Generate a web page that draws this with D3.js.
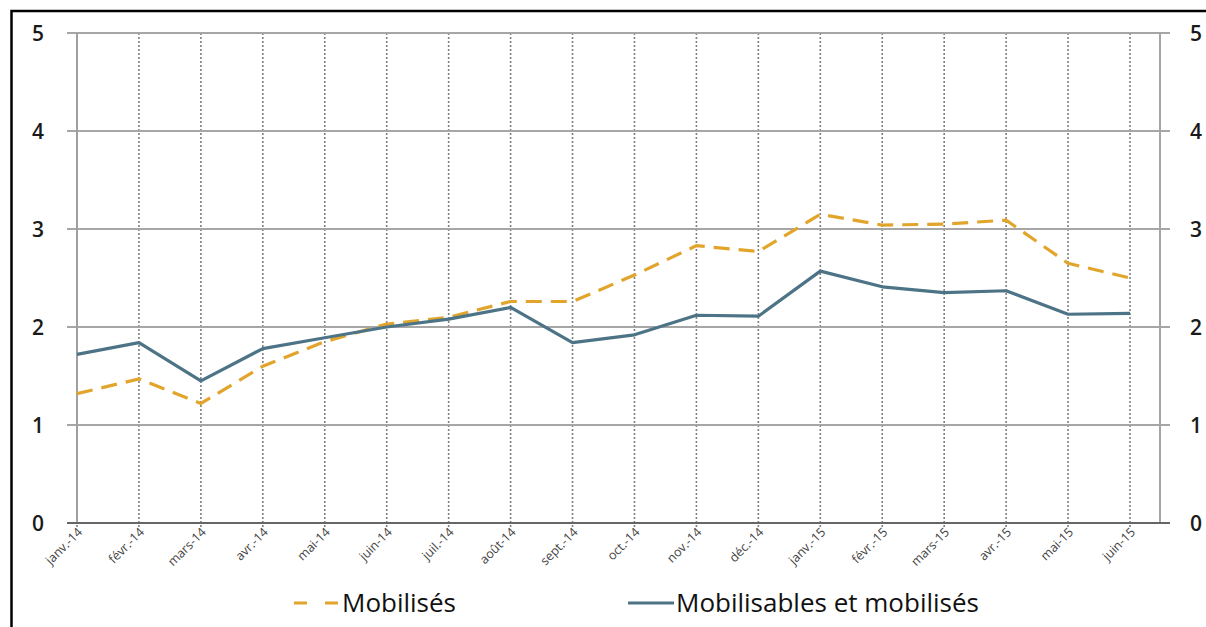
<!DOCTYPE html>
<html>
<head>
<meta charset="utf-8">
<script src="https://cdn.jsdelivr.net/npm/d3@7"></script>
<style>
  html, body { margin: 0; padding: 0; background: #fff; }
  svg { display: block; }
</style>
</head>
<body>
<svg id="chart" width="1206" height="627"></svg>
<script>
const categories = ["janv.-14","févr.-14","mars-14","avr.-14","mai-14","juin-14","juil.-14","août-14","sept.-14","oct.-14","nov.-14","déc.-14","janv.-15","févr.-15","mars-15","avr.-15","mai-15","juin-15"];
const mobilises = [1.32,1.47,1.22,1.60,1.85,2.03,2.10,2.26,2.26,2.53,2.83,2.77,3.15,3.04,3.05,3.09,2.65,2.50];
const mobilisables = [1.72,1.84,1.45,1.78,1.89,2.00,2.08,2.20,1.84,1.92,2.12,2.11,2.57,2.41,2.35,2.37,2.13,2.14];
const yTicks = [0,1,2,3,4,5];
const seriesNames = ["Mobilisés","Mobilisables et mobilisés"];

(function () {
const svg = d3.select("#chart");
const pLeft = 77, pRight = 1160, pTop = 33, pBottom = 523;
const x = d3.scalePoint().domain(categories).range([pLeft, 1130]);
const y = d3.scaleLinear().domain([0,5]).range([pBottom, pTop]);

// frame
svg.append("rect").attr("x", 11.5).attr("y", 11).attr("width", 1220).attr("height", 640)
  .attr("fill", "none").attr("stroke", "#000").attr("stroke-width", 2.5);

// vertical dotted gridlines
svg.append("g").selectAll("line").data(categories).join("line")
  .attr("x1", d => x(d)).attr("x2", d => x(d))
  .attr("y1", pTop).attr("y2", pBottom + 4)
  .attr("stroke", "#7f7f7f").attr("stroke-width", 1.6).attr("stroke-dasharray", "2,2");

// horizontal gridlines
svg.append("g").selectAll("line").data(yTicks.filter(d => d > 0)).join("line")
  .attr("x1", 67).attr("x2", 1170)
  .attr("y1", d => y(d)).attr("y2", d => y(d))
  .attr("stroke", "#a6a6a6").attr("stroke-width", 1.8);

// left & right axis lines
svg.append("line").attr("x1", pLeft).attr("x2", pLeft).attr("y1", pTop).attr("y2", pBottom)
  .attr("stroke", "#a0a0a0").attr("stroke-width", 2);
svg.append("line").attr("x1", pRight).attr("x2", pRight).attr("y1", pTop).attr("y2", pBottom)
  .attr("stroke", "#a6a6a6").attr("stroke-width", 2);
// bottom axis
svg.append("line").attr("x1", 67).attr("x2", 1170).attr("y1", pBottom).attr("y2", pBottom)
  .attr("stroke", "#666").attr("stroke-width", 2);

// y labels
const yFont = "'Open Sans', sans-serif";
svg.append("g").selectAll("text").data(yTicks).join("text")
  .attr("x", 38).attr("y", d => y(d)).attr("dy", "0.36em")
  .attr("text-anchor", "middle")
  .attr("font-family", yFont).attr("font-size", 21).attr("font-weight", 600)
  .attr("fill", "#1a1a1a").text(d => d);
svg.append("g").selectAll("text").data(yTicks).join("text")
  .attr("x", 1196).attr("y", d => y(d)).attr("dy", "0.36em")
  .attr("text-anchor", "middle")
  .attr("font-family", yFont).attr("font-size", 21).attr("font-weight", 600)
  .attr("fill", "#1a1a1a").text(d => d);

// x labels (rotated -45)
svg.append("g").selectAll("text").data(categories).join("text")
  .attr("x", 0).attr("y", 0)
  .attr("transform", d => "translate(" + (x(d) + 6) + "," + (pBottom + 10) + ") rotate(-45)")
  .attr("text-anchor", "end")
  .attr("font-family", "'Open Sans', sans-serif").attr("font-size", 12.5)
  .attr("fill", "#444").text(d => d);

// lines
const lineGen = d3.line().x((d, i) => x(categories[i])).y(d => y(d));
svg.append("path").datum(mobilises).attr("d", lineGen)
  .attr("fill", "none").attr("stroke", "#e2a52b").attr("stroke-width", 3.2)
  .attr("stroke-dasharray", "16,9");
svg.append("path").datum(mobilisables).attr("d", lineGen)
  .attr("fill", "none").attr("stroke", "#4d7486").attr("stroke-width", 3.2)
  .attr("stroke-linejoin", "round");

// legend
const lg = svg.append("g");
lg.append("line").attr("x1", 294).attr("x2", 338).attr("y1", 603).attr("y2", 603)
  .attr("stroke", "#e2a52b").attr("stroke-width", 3).attr("stroke-dasharray", "13,18");
lg.append("text").attr("x", 342).attr("y", 603).attr("dy", "0.35em")
  .attr("font-family", "'Open Sans', sans-serif").attr("font-size", 26)
  .attr("fill", "#111").text(seriesNames[0]);
lg.append("line").attr("x1", 628).attr("x2", 674).attr("y1", 603).attr("y2", 603)
  .attr("stroke", "#4d7486").attr("stroke-width", 3);
lg.append("text").attr("x", 676).attr("y", 603).attr("dy", "0.35em")
  .attr("font-family", "'Open Sans', sans-serif").attr("font-size", 26)
  .attr("fill", "#111").text(seriesNames[1]);
})();
</script>
</body>
</html>
